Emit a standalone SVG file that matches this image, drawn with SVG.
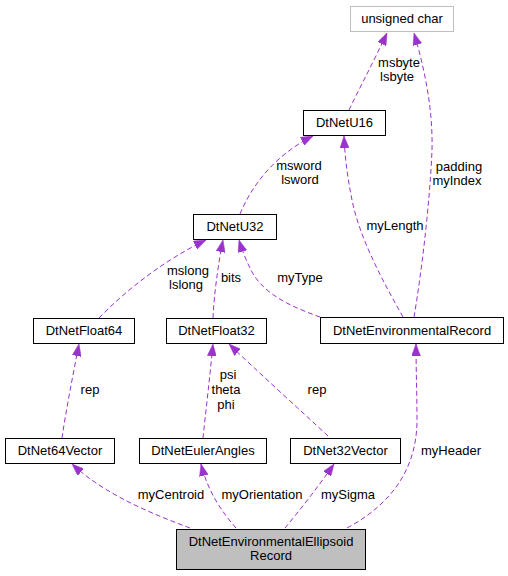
<svg xmlns="http://www.w3.org/2000/svg" width="508" height="576" viewBox="0 0 508 576">
<style>
.node rect{fill:#ffffff;stroke:#000000;stroke-width:1}
.node text,.lbl{font-family:"Liberation Sans",Arial,Helvetica,sans-serif;font-size:13px;fill:#000000;text-anchor:middle}
.edge{fill:none;stroke:#9a32cd;stroke-width:1;stroke-dasharray:5,3}
</style>
<defs>
<marker id="ah" markerUnits="userSpaceOnUse" markerWidth="12" markerHeight="9" refX="12" refY="4.5" orient="auto">
<path d="M0,0 L12,4.5 L0,9 z" fill="#9a32cd" stroke="#9a32cd" stroke-width="0.5"/>
</marker>
</defs>
<rect width="508" height="576" fill="#ffffff"/>
<g id="connectors">
<path class="edge" marker-end="url(#ah)" d="M349,110 C356,95 372,65 387,33"/>
<path class="edge" marker-end="url(#ah)" d="M414,317 C422,270 430,200 432,150 C433,110 425,70 414,33"/>
<path class="edge" marker-end="url(#ah)" d="M240,214 C252,185 275,155 313,136"/>
<path class="edge" marker-end="url(#ah)" d="M403,317 C385,285 360,240 352,200 C348,180 345,160 344,136"/>
<path class="edge" marker-end="url(#ah)" d="M320,317 C295,308 262,295 250,268 C246,260 242,250 239,240"/>
<path class="edge" marker-end="url(#ah)" d="M213,318 C214,295 218,265 223,240"/>
<path class="edge" marker-end="url(#ah)" d="M99,318 C120,296 160,262 206,240"/>
<path class="edge" marker-end="url(#ah)" d="M62,438 C66,410 73,375 79,344"/>
<path class="edge" marker-end="url(#ah)" d="M203,438 C206,410 210,375 213,344"/>
<path class="edge" marker-end="url(#ah)" d="M328,436 C300,410 258,372 229,344"/>
<path class="edge" marker-end="url(#ah)" d="M190,528 C155,515 105,495 72,464"/>
<path class="edge" marker-end="url(#ah)" d="M236,528 C222,512 208,492 201,464"/>
<path class="edge" marker-end="url(#ah)" d="M285,528 C300,510 318,487 334,464"/>
<path class="edge" marker-end="url(#ah)" d="M347,528 C390,505 417,470 417,420 C417,395 416,370 416,344"/>
<text class="lbl" x="399" y="67">msbyte</text>
<text class="lbl" x="397" y="81">lsbyte</text>
<text class="lbl" x="459" y="171">padding</text>
<text class="lbl" x="457" y="185">myIndex</text>
<text class="lbl" x="299" y="170">msword</text>
<text class="lbl" x="300" y="184">lsword</text>
<text class="lbl" x="395" y="230">myLength</text>
<text class="lbl" x="300" y="282">myType</text>
<text class="lbl" x="231" y="282">bits</text>
<text class="lbl" x="188" y="275">mslong</text>
<text class="lbl" x="186" y="289">lslong</text>
<text class="lbl" x="90" y="394">rep</text>
<text class="lbl" x="228" y="379">psi</text>
<text class="lbl" x="226" y="394">theta</text>
<text class="lbl" x="226" y="409">phi</text>
<text class="lbl" x="317" y="394">rep</text>
<text class="lbl" x="171" y="499">myCentroid</text>
<text class="lbl" x="262" y="499">myOrientation</text>
<text class="lbl" x="348" y="499">mySigma</text>
<text class="lbl" x="451" y="455">myHeader</text>
</g>
<g id="unsigned_char" class="node"><rect x="350.5" y="6.5" width="103" height="25" style="stroke:#bfbfbf"/><text x="402" y="23">unsigned char</text></g>
<g id="DtNetU16" class="node"><rect x="303.5" y="110.5" width="82" height="25"/><text x="344.5" y="127">DtNetU16</text></g>
<g id="DtNetU32" class="node"><rect x="193.5" y="214.5" width="83" height="25"/><text x="235" y="231">DtNetU32</text></g>
<g id="DtNetEnvironmentalRecord" class="node"><rect x="320.5" y="317.5" width="183" height="26"/><text x="412" y="335">DtNetEnvironmentalRecord</text></g>
<g id="DtNetFloat64" class="node"><rect x="33.5" y="318.5" width="101" height="25"/><text x="84" y="335">DtNetFloat64</text></g>
<g id="DtNetFloat32" class="node"><rect x="166.5" y="318.5" width="100" height="25"/><text x="216.5" y="335">DtNetFloat32</text></g>
<g id="DtNet64Vector" class="node"><rect x="5.5" y="438.5" width="109" height="25"/><text x="60" y="455">DtNet64Vector</text></g>
<g id="DtNetEulerAngles" class="node"><rect x="139.5" y="438.5" width="127" height="25"/><text x="203" y="455">DtNetEulerAngles</text></g>
<g id="DtNet32Vector" class="node"><rect x="290.5" y="438.5" width="110" height="25"/><text x="345.5" y="455">DtNet32Vector</text></g>
<g id="DtNetEnvironmentalEllipsoidRecord" class="node"><rect x="176.5" y="529.5" width="189" height="40" style="fill:#bfbfbf"/><text x="271" y="546">DtNetEnvironmentalEllipsoid</text><text x="271" y="560">Record</text></g>
</svg>
